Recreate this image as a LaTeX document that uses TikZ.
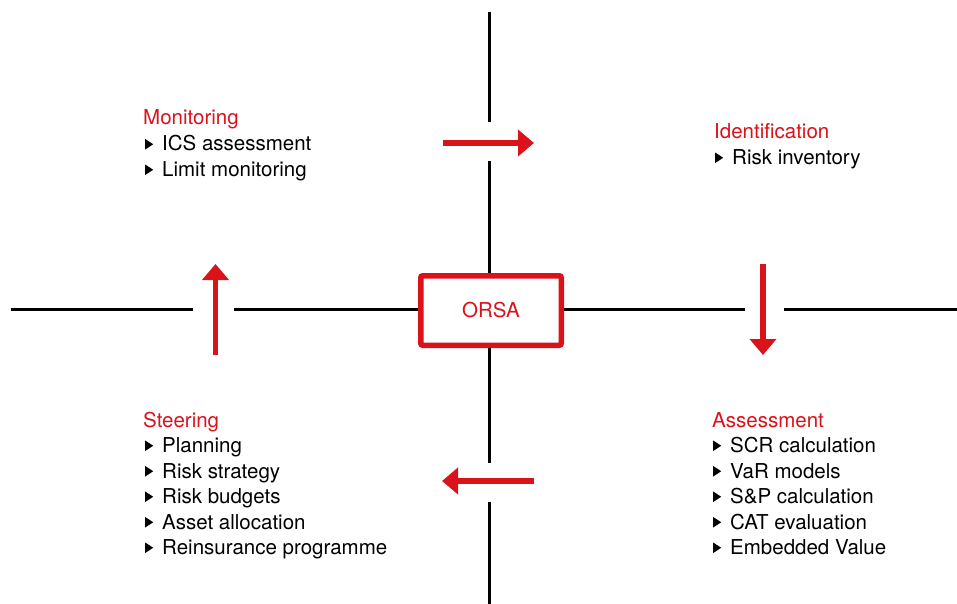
\documentclass[tikz,border=0pt]{standalone}
\usepackage{fontspec}
\setmainfont{TeX Gyre Heros}
\usetikzlibrary{arrows.meta}
\definecolor{orsared}{RGB}{218,18,26}
\newcommand{\tri}{\raisebox{1.5pt}{\tikz\fill[black] (0pt,0pt)--(0pt,10.5pt)--(8pt,5.25pt)--cycle;}\hspace{9pt}}
\tikzset{
  axis/.style={line width=3.3pt, black},
  flow/.style={line width=5.5pt, orsared, -{Triangle[length=16pt,width=26pt]}},
  head/.style={anchor=base west, inner sep=0pt, text=orsared, font=\fontsize{20.5}{24}\selectfont},
  item/.style={anchor=base west, inner sep=0pt, text=black, font=\fontsize{20.5}{24}\selectfont},
}
\begin{document}
\begin{tikzpicture}[x=1pt,y=-1pt]
\useasboundingbox (0,0) rectangle (957,604);
% central box
\node[draw=orsared, line width=5.5pt, rounded corners=2pt, fill=white, minimum width=140.5pt, minimum height=69.5pt, inner sep=0pt, text=orsared, font=\fontsize{20.5}{24}\selectfont] (orsa) at (491,310.5) {ORSA};
% axis coordinates
\coordinate (vtop) at (489.3,12);
\coordinate (vg1) at (489.3,122);
\coordinate (vg2) at (489.3,161);
\coordinate (vg3) at (489.3,463);
\coordinate (vg4) at (489.3,502);
\coordinate (vbot) at (489.3,604);
\coordinate (hleft) at (11,309.3);
\coordinate (hg1) at (193,309.3);
\coordinate (hg2) at (234,309.3);
\coordinate (hg3) at (745,309.3);
\coordinate (hg4) at (784,309.3);
\coordinate (hright) at (957,309.3);
\draw[axis] (vtop) -- (vg1);
\draw[axis] (vg2) -- (vg2 |- orsa.north);
\draw[axis] (vg3 |- orsa.south) -- (vg3);
\draw[axis] (vg4) -- (vbot);
\draw[axis] (hleft) -- (hg1);
\draw[axis] (hg2) -- (hg2 -| orsa.west);
\draw[axis] (hg3 -| orsa.east) -- (hg3);
\draw[axis] (hg4) -- (hright);
% flow arrows
\coordinate (a1s) at (443,143);
\coordinate (a1e) at (534,143);
\coordinate (a2s) at (763,264);
\coordinate (a2e) at (763,355);
\coordinate (a3s) at (534,481);
\coordinate (a3e) at (442,481);
\coordinate (a4s) at (215.5,355);
\coordinate (a4e) at (215.5,264);
\draw[flow] (a1s) -- (a1e);
\draw[flow] (a2s) -- (a2e);
\draw[flow] (a3s) -- (a3e);
\draw[flow] (a4s) -- (a4e);
% Monitoring
\node[head] (mon) at (143,125) {Monitoring};
\node[item] (mon1) at (145,151) {\tri ICS assessment};
\node[item] (mon2) at (145,176.5) {\tri Limit monitoring};
% Identification
\node[head] (ide) at (714,139) {Identification};
\node[item] (ide1) at (715,164.5) {\tri Risk inventory};
% Steering
\node[head] (ste) at (143,427) {Steering};
\node[item] (ste1) at (145,452.5) {\tri Planning};
\node[item] (ste2) at (145,478) {\tri Risk strategy};
\node[item] (ste3) at (145,503.5) {\tri Risk budgets};
\node[item] (ste4) at (145,529) {\tri Asset allocation};
\node[item] (ste5) at (145,554.5) {\tri Reinsurance programme};
% Assessment
\node[head] (ass) at (712,427) {Assessment};
\node[item] (ass1) at (713,452.5) {\tri SCR calculation};
\node[item] (ass2) at (713,478) {\tri VaR models};
\node[item] (ass3) at (713,503.5) {\tri S\&P calculation};
\node[item] (ass4) at (713,529) {\tri CAT evaluation};
\node[item] (ass5) at (713,554.5) {\tri Embedded Value};
\end{tikzpicture}
\end{document}
